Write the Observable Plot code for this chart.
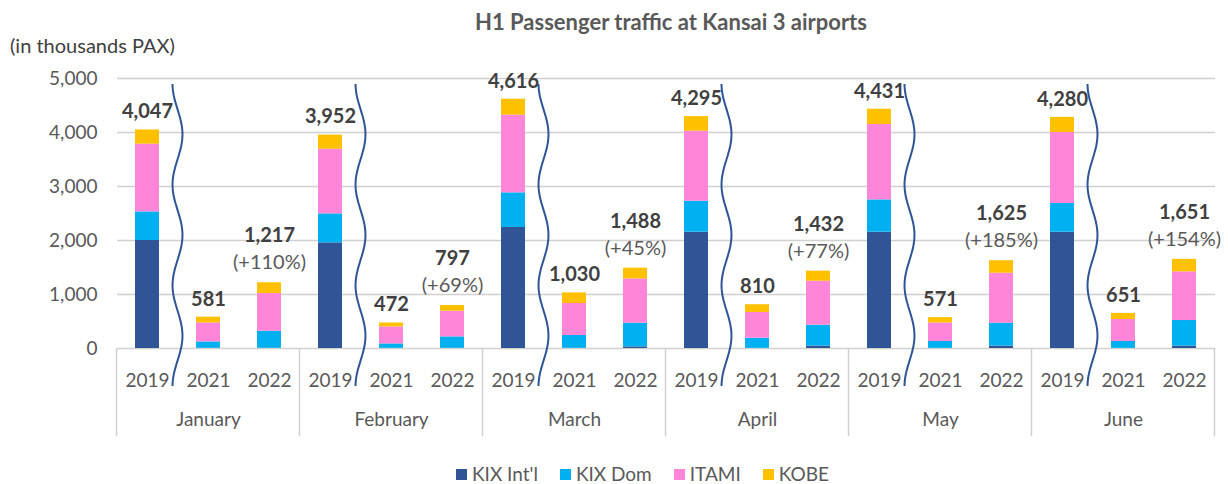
<!DOCTYPE html>
<html>
<head>
<meta charset="utf-8">
<script src="https://cdn.jsdelivr.net/npm/d3@7"></script>
<script src="https://cdn.jsdelivr.net/npm/@observablehq/plot@0.6"></script>
<style>
  body { margin: 0; background: #fff; font-family: Lato, "Open Sans", sans-serif; }
  #wrap { position: relative; width: 1228px; height: 484px; overflow: hidden; background: #fff; }
  #title { position: absolute; left: 122px; width: 1098px; top: 8px; text-align: center; font-weight: bold; font-size: 22px; line-height: 28px; color: #595959; z-index: 2; }
  #ylab { position: absolute; left: 10px; top: 33px; font-size: 20px; line-height: 24px; color: #404040; z-index: 2; }
  #chart { position: absolute; left: 0; top: 36px; z-index: 1; }
  #legend { position: absolute; left: 456px; top: 465px; display: flex; align-items: center; font-size: 19px; color: #595959; line-height: 18px; z-index: 2; }
  #legend .item { display: flex; align-items: center; margin-right: 22px; }
  #legend .sw { width: 11px; height: 11px; margin-right: 5px; }
</style>
</head>
<body>
<div id="wrap">
  <div id="chart"></div>
  <div id="title">H1 Passenger traffic at Kansai 3 airports</div>
  <div id="ylab">(in thousands PAX)</div>
  <div id="legend"></div>
</div>
<script>
// ---- data ----
const months = ["January", "February", "March", "April", "May", "June"];
const years = ["2019", "2021", "2022"];
const series = ["KIX Int'l", "KIX Dom", "ITAMI", "KOBE"];
const colors = ["#2F5597", "#00B0F0", "#FF85D8", "#FFC000"];
const yTicks = [0, 1000, 2000, 3000, 4000, 5000];

// values per bar, order: Jan 2019, Jan 2021, Jan 2022, Feb 2019, ...
const kixIntl = [2000, 5, 5, 1956, 3, 5, 2241, 5, 30, 2154, 3, 45, 2154, 3, 45, 2154, 3, 45];
const kixDom  = [530, 117, 315, 537, 82, 210, 642, 236, 438, 574, 188, 386, 598, 127, 423, 531, 127, 473];
const itami   = [1254, 352, 698, 1198, 315, 476, 1438, 592, 821, 1297, 476, 815, 1396, 344, 926, 1315, 407, 901];
const kobe    = [263, 107, 199, 261, 72, 106, 295, 197, 199, 270, 143, 186, 283, 97, 231, 280, 114, 232];
const totals  = [4047, 581, 1217, 3952, 472, 797, 4616, 1030, 1488, 4295, 810, 1432, 4431, 571, 1625, 4280, 651, 1651];
const growth2022 = ["(+110%)", "(+69%)", "(+45%)", "(+77%)", "(+185%)", "(+154%)"];

// ---- build tables ----
const keys = months.flatMap(m => years.map(y => `${m} ${y}`));
const seriesValues = [kixIntl, kixDom, itami, kobe];
const long = keys.flatMap((k, i) => series.map((s, j) => ({key: k, series: s, value: seriesValues[j][i]})));
const rows = keys.map((k, i) => ({key: k, month: k.split(" ")[0], year: k.split(" ")[1], total: totals[i]}));
const rows2022 = rows.filter(r => r.year === "2022").map((r, i) => ({...r, growth: growth2022[i]}));
const rowsOld = rows.filter(r => r.year !== "2022");
const fmt = d3.format(",");

function decorations(index, scales) {
  const x = scales.x, y = scales.y;
  const bw = typeof x.bandwidth === "function" ? x.bandwidth() : x.bandwidth;
  const step = x(keys[1]) - x(keys[0]);
  const gap = step - bw;
  const y0 = y(0), yTop = y(5000);
  const g = d3.create("svg:g");
  const xs = months.map(m => x(`${m} ${years[0]}`) - gap / 2);
  xs.push(x(keys[keys.length - 1]) + bw + gap / 2);
  g.selectAll("line").data(xs).join("line")
    .attr("x1", d => d).attr("x2", d => d)
    .attr("y1", y0).attr("y2", y0 + 88)
    .attr("stroke", "#d0d0d0").attr("stroke-width", 1.5);
  const line = d3.line().curve(d3.curveBasis);
  months.forEach(m => {
    const xc = (x(`${m} ${years[0]}`) + bw + x(`${m} ${years[1]}`)) / 2;
    const top = yTop + 6, bot = y0 + 38;
    const pts = d3.range(0, 91).map(j => {
      const t = j / 90;
      return [xc - 5 * Math.cos(2 * Math.PI * 3 * t), top + t * (bot - top)];
    });
    g.append("path").attr("d", line(pts)).attr("fill", "none")
      .attr("stroke", "#2F5597").attr("stroke-width", 2);
  });
  return g.node();
}

const plot = Plot.plot({
  width: 1228,
  height: 404,
  marginTop: 42,
  marginBottom: 92,
  marginLeft: 117,
  marginRight: 13,
  style: {fontFamily: "Lato, 'Open Sans', sans-serif", fontSize: "19px", color: "#595959", background: "transparent", overflow: "visible"},
  x: {domain: keys, paddingInner: 0.6, paddingOuter: 0.3, tickSize: 0, tickPadding: 25, tickFormat: k => k.split(" ")[1], label: null},
  y: {domain: [0, 5000], ticks: yTicks, tickFormat: fmt, tickSize: 0, tickPadding: 20, label: null},
  color: {domain: series, range: colors},
  marks: [
    Plot.ruleY(yTicks, {stroke: "#d0d0d0", strokeWidth: 1.3}),
    Plot.barY(long, {x: "key", y: "value", fill: "series"}),
    decorations,
    Plot.text(rowsOld, {x: "key", y: "total", text: d => fmt(d.total), dy: -18, fontWeight: "bold", fontSize: 20, fill: "#404040"}),
    Plot.text(rows2022, {x: "key", y: "total", text: d => fmt(d.total), dy: -47, fontWeight: "bold", fontSize: 20, fill: "#404040"}),
    Plot.text(rows2022, {x: "key", y: "total", text: "growth", dy: -20, fontSize: 20, fill: "#595959"}),
    Plot.text(months, {x: m => `${m} ${years[1]}`, y: () => 0, text: d => d, dy: 71, fontSize: 19, fill: "#595959"})
  ]
});
document.getElementById("chart").appendChild(plot);

const legend = document.getElementById("legend");
series.forEach((s, i) => {
  const it = document.createElement("div");
  it.className = "item";
  const sw = document.createElement("div");
  sw.className = "sw";
  sw.style.background = colors[i];
  const lb = document.createElement("span");
  lb.textContent = s;
  it.appendChild(sw); it.appendChild(lb);
  legend.appendChild(it);
});
</script>
</body>
</html>
